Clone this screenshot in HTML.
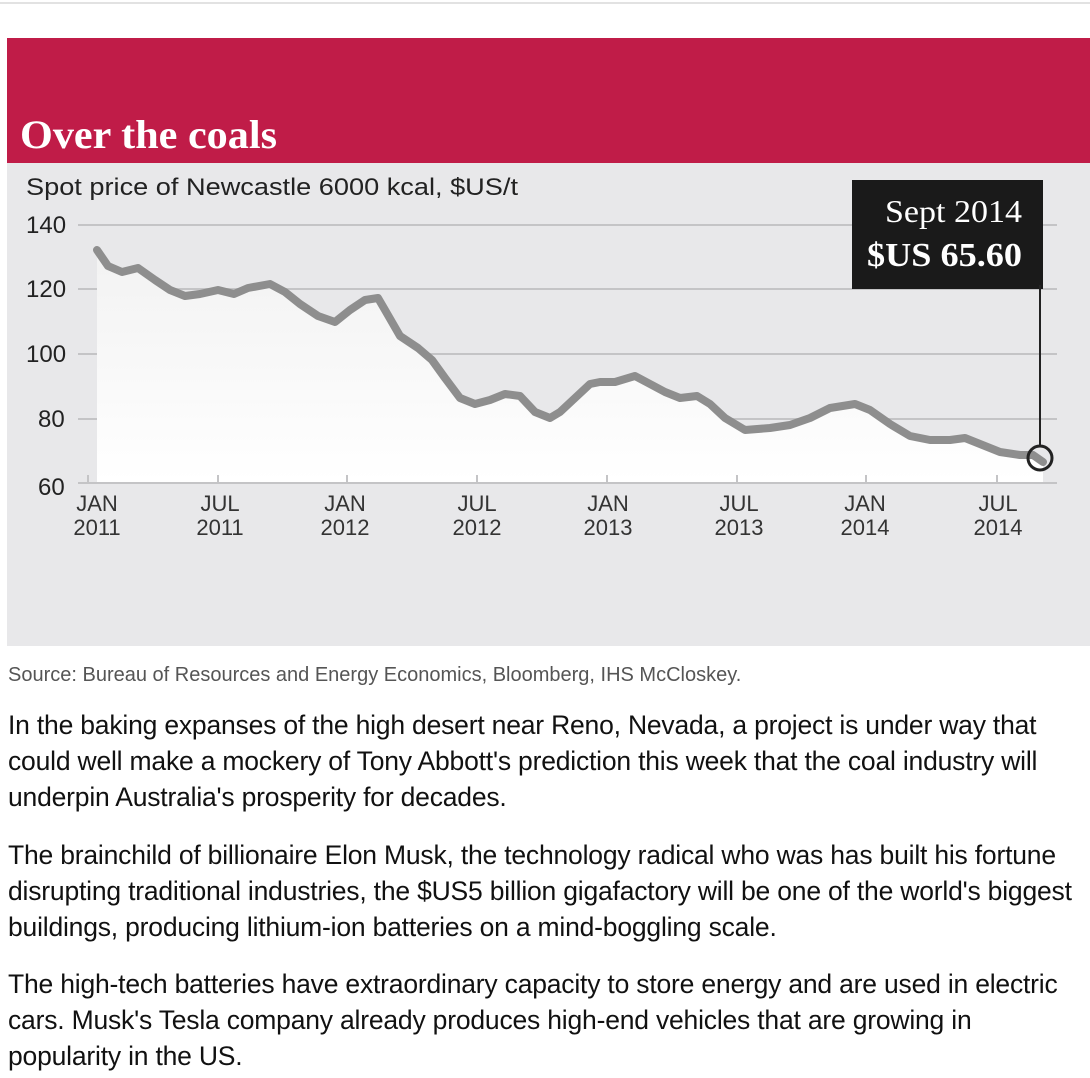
<!DOCTYPE html>
<html><head><meta charset="utf-8"><style>
body{margin:0;width:1090px;height:1078px;background:#fff;overflow:hidden;font-family:"Liberation Sans",Arial,sans-serif;}
.top{position:absolute;left:0;top:2px;width:1090px;height:2px;background:#e2e2e2}
p{position:absolute;left:8px;margin:0;font-size:26.5px;line-height:36px;color:#111;width:1080px;letter-spacing:-0.2px}
</style></head><body>
<div class="top"></div>
<svg style="position:absolute;left:0;top:0" width="1090" height="660">
<defs><linearGradient id="g" x1="0" y1="0" x2="0" y2="1"><stop offset="0" stop-color="#f2f2f2"/><stop offset="1" stop-color="#ffffff"/></linearGradient></defs>
<rect x="7" y="38" width="1083" height="125" fill="#c01c48"/>
<rect x="7" y="163" width="1083" height="483" fill="#e8e8ea"/>
<text x="20" y="148" font-family="Liberation Serif,serif" font-weight="bold" font-size="40" fill="#fff" textLength="257" lengthAdjust="spacingAndGlyphs">Over the coals</text>
<text x="26" y="195" font-size="24" fill="#222" textLength="492" lengthAdjust="spacingAndGlyphs">Spot price of Newcastle 6000 kcal, $US/t</text>
<g stroke="#c4c4c6" stroke-width="2">
<line x1="78" y1="225" x2="1057" y2="225"/><line x1="78" y1="289" x2="1057" y2="289"/>
<line x1="78" y1="354" x2="1057" y2="354"/><line x1="78" y1="419" x2="1057" y2="419"/>
<line x1="78" y1="483" x2="1057" y2="483"/></g>
<g font-size="24" fill="#222"><text x="26" y="233">140</text><text x="26" y="297">120</text><text x="26" y="362">100</text><text x="38" y="427">80</text><text x="38" y="495">60</text></g>
<path fill="url(#g)" d="M97,250 L108,266 L122,272 L138,268 L155,280 L170,290 L185,296 L200,294 L218,290 L234,294 L248,288 L270,284 L285,292 L300,304 L318,316 L335,322 L350,310 L365,300 L378,298 L385,310 L400,336 L418,348 L432,360 L445,378 L460,398 L475,404 L490,400 L505,394 L520,396 L535,412 L550,418 L560,412 L575,398 L590,384 L600,382 L615,382 L635,376 L650,384 L665,392 L680,398 L697,396 L710,404 L725,418 L745,430 L770,428 L790,425 L810,418 L830,408 L855,404 L870,410 L890,424 L910,436 L930,440 L950,440 L965,438 L985,446 L1000,452 L1020,455 L1033,455 L1043,462 L1043,482 L97,482Z"/>
<g stroke="#c4c4c6" stroke-width="2"><line x1="88" y1="475" x2="88" y2="483"/><line x1="218" y1="475" x2="218" y2="483"/><line x1="347" y1="475" x2="347" y2="483"/><line x1="477" y1="475" x2="477" y2="483"/><line x1="607" y1="475" x2="607" y2="483"/><line x1="737" y1="475" x2="737" y2="483"/><line x1="866" y1="475" x2="866" y2="483"/><line x1="997" y1="475" x2="997" y2="483"/></g>
<path fill="none" stroke="#8e8e8e" stroke-width="8" stroke-linejoin="round" stroke-linecap="round" d="M97,250 L108,266 L122,272 L138,268 L155,280 L170,290 L185,296 L200,294 L218,290 L234,294 L248,288 L270,284 L285,292 L300,304 L318,316 L335,322 L350,310 L365,300 L378,298 L385,310 L400,336 L418,348 L432,360 L445,378 L460,398 L475,404 L490,400 L505,394 L520,396 L535,412 L550,418 L560,412 L575,398 L590,384 L600,382 L615,382 L635,376 L650,384 L665,392 L680,398 L697,396 L710,404 L725,418 L745,430 L770,428 L790,425 L810,418 L830,408 L855,404 L870,410 L890,424 L910,436 L930,440 L950,440 L965,438 L985,446 L1000,452 L1020,455 L1033,455 L1043,462"/>
<g font-size="22" fill="#333" text-anchor="middle">
<text x="97" y="511">JAN</text><text x="97" y="535">2011</text>
<text x="220" y="511">JUL</text><text x="220" y="535">2011</text>
<text x="345" y="511">JAN</text><text x="345" y="535">2012</text>
<text x="477" y="511">JUL</text><text x="477" y="535">2012</text>
<text x="608" y="511">JAN</text><text x="608" y="535">2013</text>
<text x="739" y="511">JUL</text><text x="739" y="535">2013</text>
<text x="865" y="511">JAN</text><text x="865" y="535">2014</text>
<text x="998" y="511">JUL</text><text x="998" y="535">2014</text></g>
<rect x="852" y="180" width="191" height="109" fill="#1a1a1a"/>
<line x1="1040" y1="285" x2="1040" y2="446" stroke="#222" stroke-width="2"/>
<circle cx="1040" cy="458" r="12" fill="none" stroke="#222" stroke-width="3"/>
<text x="1022" y="222" font-family="Liberation Serif,serif" font-size="32" fill="#fff" text-anchor="end" textLength="137" lengthAdjust="spacingAndGlyphs">Sept 2014</text>
<text x="1022" y="266" font-family="Liberation Serif,serif" font-weight="bold" font-size="34" fill="#fff" text-anchor="end" textLength="155" lengthAdjust="spacingAndGlyphs">$US 65.60</text>
</svg>
<p style="top:663px;font-size:20px;color:#555;line-height:24px;letter-spacing:0;width:1080px">Source: Bureau of Resources and Energy Economics, Bloomberg, IHS McCloskey.</p>
<p style="top:707px">In the baking expanses of the high desert near Reno, Nevada, a project is under way that could well make a mockery of Tony Abbott's prediction this week that the coal industry will underpin Australia's prosperity for decades.</p>
<p style="top:837px">The brainchild of billionaire Elon Musk, the technology radical who was has built his fortune disrupting traditional industries, the $US5 billion gigafactory will be one of the world's biggest buildings, producing lithium-ion batteries on a mind-boggling scale.</p>
<p style="top:966px">The high-tech batteries have extraordinary capacity to store energy and are used in electric cars. Musk's Tesla company already produces high-end vehicles that are growing in popularity in the US.</p>
</body></html>
